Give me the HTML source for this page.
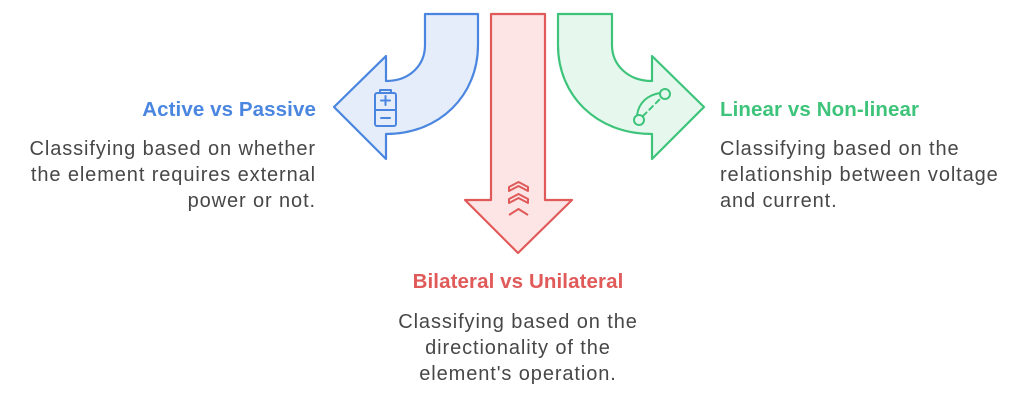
<!DOCTYPE html>
<html><head><meta charset="utf-8"><style>
html,body{margin:0;padding:0;background:#fff;}
svg{display:block;font-family:"Liberation Sans",sans-serif;}
.t{font-weight:bold;font-size:20.5px;letter-spacing:0.1px;}
.d{font-size:20px;fill:#474747;letter-spacing:0.9px;}
</style></head><body>
<svg width="1024" height="401" viewBox="0 0 1024 401">
<path d="M425,14 L478,14 L478,45 C478,95 440,134 386,134 L386,159 L334,107 L386,56 L386,81 C410,81 425,65 425,45 Z" fill="#e5edfb" stroke="#4a86e0" stroke-width="2.2" stroke-linejoin="round"/>
<path d="M491,14 L545,14 L545,200 L572,200 L518,253 L465,200 L491,200 Z" fill="#fde5e5" stroke="#e05a5a" stroke-width="2.2" stroke-linejoin="round"/>
<path d="M612,14 L558,14 L558,45 C558,95 596,134 652,134 L652,159 L704,107 L652,56 L652,81 C628,81 612,65 612,45 Z" fill="#e6f8ee" stroke="#3ec47a" stroke-width="2.2" stroke-linejoin="round"/>
<g fill="none" stroke="#4a86e0" stroke-width="2" stroke-linecap="round" stroke-linejoin="round">
<rect x="375" y="93" width="21" height="33" rx="2"/>
<path d="M380,92 V90 H391 V92"/>
<path d="M375,110 H396"/>
<path d="M385.5,96 V105 M381,100.5 H390"/>
<path d="M381,118 H390"/>
</g>
<g fill="none" stroke="#e05a5a" stroke-width="2" stroke-linejoin="round">
<path d="M509,191 V187 L518.5,182 L528,187 V191 L518.5,186 Z"/>
<path d="M509,203 V199 L518.5,194 L528,199 V203 L518.5,198 Z"/>
<path d="M509,215 L518.5,209 L528,215"/>
</g>
<g fill="none" stroke="#3ec47a" stroke-width="2" stroke-linecap="round">
<circle cx="639" cy="120" r="5"/>
<circle cx="665" cy="94" r="5"/>
<path d="M637,115 C639,102 648,95 660,93"/>
<path d="M643,116 L660,99" stroke-dasharray="5,4"/>
</g>
<text class="t" x="316" y="116" text-anchor="end" fill="#4a86e0">Active vs Passive</text>
<text class="d" x="316" y="155" text-anchor="end">Classifying based on whether</text>
<text class="d" x="316" y="181" text-anchor="end">the element requires external</text>
<text class="d" x="316" y="207" text-anchor="end">power or not.</text>
<text class="t" x="720" y="116" fill="#3ec47a">Linear vs Non-linear</text>
<text class="d" x="720" y="155">Classifying based on the</text>
<text class="d" x="720" y="181">relationship between voltage</text>
<text class="d" x="720" y="207">and current.</text>
<text class="t" x="518" y="288" text-anchor="middle" fill="#e05a5a">Bilateral vs Unilateral</text>
<text class="d" x="518" y="328" text-anchor="middle">Classifying based on the</text>
<text class="d" x="518" y="354" text-anchor="middle">directionality of the</text>
<text class="d" x="518" y="380" text-anchor="middle">element's operation.</text>
</svg>
</body></html>
